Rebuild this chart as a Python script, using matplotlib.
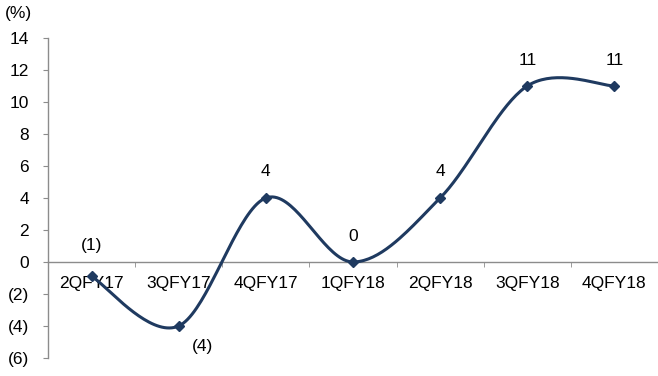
import numpy as np
import matplotlib.pyplot as plt

plt.rcParams['font.family'] = ['Liberation Sans', 'DejaVu Sans']

quarters = ['2QFY17', '3QFY17', '4QFY17', '1QFY18', '2QFY18', '3QFY18', '4QFY18']
growth = [-0.9, -4.0, 4.0, 0.0, 4.0, 11.0, 11.0]
labels = ['(1)', '(4)', '4', '0', '4', '11', '11']
yticks = [14, 12, 10, 8, 6, 4, 2, 0, -2, -4, -6]

navy = '#1f3a60'
grey = '#8c8c8c'


def smooth(xs, ys, n=40):
    # excel-like smoothed line: cubic bezier with catmull-rom control points
    pts = np.column_stack([xs, ys]).astype(float)
    ext = np.vstack([pts[0], pts, pts[-1]])
    out = []
    for i in range(len(pts) - 1):
        p0, p1 = ext[i + 1], ext[i + 2]
        c1 = p0 + (ext[i + 2] - ext[i]) / 6
        c2 = p1 - (ext[i + 3] - ext[i + 1]) / 6
        t = np.linspace(0, 1, n)[:, None]
        seg = ((1 - t) ** 3) * p0 + 3 * ((1 - t) ** 2) * t * c1 + 3 * (1 - t) * t ** 2 * c2 + t ** 3 * p1
        out.append(seg)
    out = np.vstack(out)
    return out[:, 0], out[:, 1]


fig = plt.figure(figsize=(6.58, 3.76), dpi=100)
ax = fig.add_axes([0.073, 0.048, 0.927, 0.851])

x = np.arange(len(quarters))
sx, sy = smooth(x, growth)
ax.plot(sx, sy, color=navy, lw=2.2, zorder=3)
ax.plot(x, growth, 'D', color=navy, ms=5.5, zorder=4)

fs = 12.5
offsets = [(0, 22), (17, -15), (0, 19), (0, 18), (0, 19), (0, 18), (0, 18)]
for xi, yi, lab, off in zip(x, growth, labels, offsets):
    ax.annotate(lab, (xi, yi), xytext=off, textcoords='offset points',
                ha='center', va='center', fontsize=fs, color='black')

ax.set_xlim(-0.5, len(quarters) - 0.5)
ax.set_ylim(-6, 14)
ax.set_yticks(yticks)
ax.set_yticklabels([f'({abs(v)})' if v < 0 else str(v) for v in yticks], fontsize=fs)

ax.spines['top'].set_visible(False)
ax.spines['right'].set_visible(False)
ax.spines['bottom'].set_position(('data', 0))
for s in ['left', 'bottom']:
    ax.spines[s].set_color(grey)
    ax.spines[s].set_linewidth(1.0)

ax.set_xticks(x)
ax.set_xticklabels(quarters, fontsize=fs)
ax.set_xticks(np.arange(len(quarters) + 1) - 0.5, minor=True)
ax.tick_params(axis='x', which='major', length=0, pad=10)
ax.tick_params(axis='x', which='minor', length=3.6, color=grey, direction='out')
ax.tick_params(axis='y', length=3.6, color=grey, direction='out', pad=10)

fig.text(0.008, 0.963, '(%)', fontsize=fs, ha='left', va='center')

fig.savefig('out.png', dpi=100)
